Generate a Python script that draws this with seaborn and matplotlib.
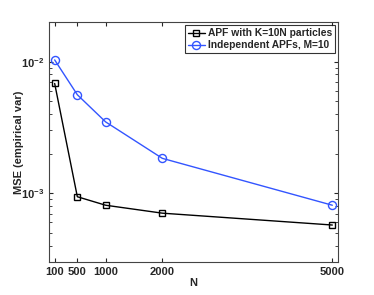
import numpy as np
import pandas as pd
import matplotlib
matplotlib.use('Agg')
import matplotlib.pyplot as plt
import seaborn as sns

N = [100, 500, 1000, 2000, 5000]
mse_apf = [0.00682, 0.00094, 0.00081, 0.000705, 0.000573]
mse_indep = [0.0103, 0.0056, 0.00348, 0.00184, 0.00081]
labels = ['APF with K=10N particles', 'Independent APFs, M=10']

sns.set_style('ticks')
plt.rcParams['font.family'] = ['Liberation Sans', 'DejaVu Sans']
plt.rcParams['font.weight'] = 'bold'

df = pd.DataFrame({'N': N * 2, 'MSE': mse_apf + mse_indep,
                   'method': [labels[0]] * len(N) + [labels[1]] * len(N)})

fig = plt.figure(figsize=(3.74, 2.95), dpi=100)
ax = fig.add_axes([49 / 374, 1 - 262 / 295, 289 / 374, 240 / 295])
sns.lineplot(data=df, x='N', y='MSE', hue='method', style='method',
             markers={labels[0]: 's', labels[1]: 'o'}, dashes=False,
             palette={labels[0]: 'black', labels[1]: '#3355ff'},
             markeredgewidth=1.0, linewidth=1.0, ax=ax)

def style_marker(ln):
    ln.set_markeredgecolor(ln.get_color())
    ln.set_markerfacecolor('none')
    ln.set_markersize(4.5 if ln.get_marker() == 's' else 5.8)

for ln in ax.get_lines():
    style_marker(ln)

ax.set_yscale('log')
ax.set_xlim(0, 5100)
ax.set_ylim(3e-4, 2e-2)
ax.set_xticks(N)
ax.set_xticklabels([str(n) for n in N], fontsize=8, fontweight='bold')
ax.tick_params(direction='in', top=True, right=True, labelsize=8, length=3)
ax.tick_params(which='minor', direction='in', right=True, length=2)
ax.set_xlabel('N', fontsize=8, fontweight='bold', labelpad=1)
ax.set_ylabel('MSE (empirical var)', fontsize=8, fontweight='bold')
ax.yaxis.set_label_coords(-0.085, 0.5)
for lab in ax.get_yticklabels():
    lab.set_fontweight('bold')
for s in ax.spines.values():
    s.set_color('#444444')
    s.set_linewidth(0.8)

leg = ax.legend(loc='upper right', fontsize=7.4, frameon=True, fancybox=False,
                edgecolor='black', handlelength=1.6, borderaxespad=0.3,
                borderpad=0.3, labelspacing=0.2, handletextpad=0.3)
leg.get_frame().set_linewidth(0.8)
for t in leg.get_texts():
    t.set_fontweight('bold')
for h in leg.legend_handles:
    style_marker(h)

fig.savefig('out.png', dpi=100)
